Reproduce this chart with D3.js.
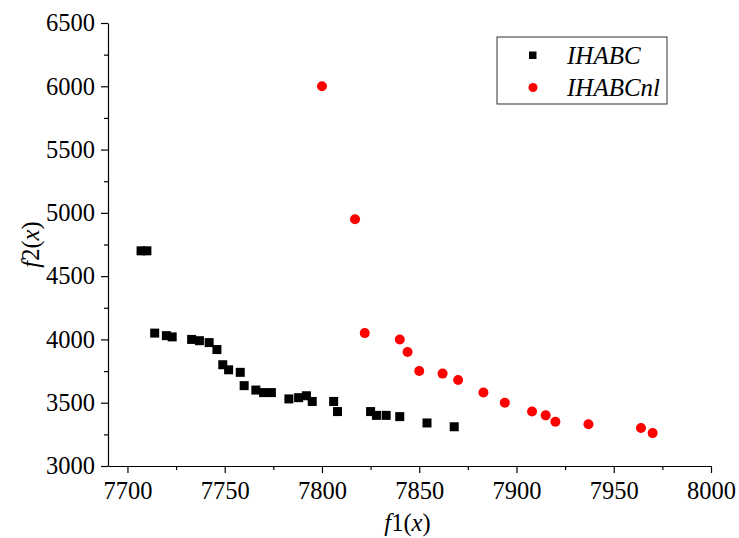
<!DOCTYPE html>
<html>
<head>
<meta charset="utf-8">
<script src="https://cdn.jsdelivr.net/npm/d3@7"></script>
<style>
  body { margin: 0; background: #fff; }
  svg text { font-family: "Liberation Serif", "Times New Roman", serif; }
</style>
</head>
<body>
<div id="chart"></div>
<script>
// Data
const ihabcX = [7707, 7710, 7714, 7720, 7723, 7733, 7737, 7742, 7746, 7749, 7752, 7758, 7760, 7766, 7770, 7774, 7783, 7788, 7792, 7795, 7806, 7808, 7825, 7828, 7833, 7840, 7854, 7868];
const ihabcY = [4700, 4700, 4050, 4030, 4020, 4000, 3990, 3975, 3920, 3800, 3760, 3740, 3635, 3600, 3580, 3580, 3530, 3540, 3555, 3510, 3510, 3430, 3430, 3400, 3400, 3390, 3340, 3310];

const nlX = [7800, 7817, 7822, 7840, 7844, 7850, 7862, 7870, 7883, 7894, 7908, 7915, 7920, 7937, 7964, 7970];
const nlY = [6000, 4950, 4050, 4000, 3900, 3750, 3730, 3680, 3580, 3500, 3430, 3400, 3350, 3330, 3300, 3260];

const xTicks = [7700, 7750, 7800, 7850, 7900, 7950, 8000];
const yTicks = [3000, 3500, 4000, 4500, 5000, 5500, 6000, 6500];
const legendNames = ["IHABC", "IHABCnl"];

const serif = '"Liberation Serif", "Times New Roman", serif';
const width = 739, height = 538;
const margin = {top: 23, right: 28, bottom: 72, left: 108};

const svg = d3.select("#chart").append("svg")
    .attr("width", width)
    .attr("height", height)
    .attr("font-family", serif);

const x = d3.scaleLinear().domain([7690, 8000]).range([margin.left, width - margin.right]);
const y = d3.scaleLinear().domain([3000, 6500]).range([height - margin.bottom, margin.top]);

// minor ticks
const xMinor = d3.range(7725, 8000, 50);
const yMinor = d3.range(3250, 6500, 500);

svg.append("g")
    .attr("transform", `translate(0, ${y(3000)})`)
    .call(d3.axisBottom(x).tickValues(xTicks).tickFormat(d3.format("d")).tickSize(7).tickPadding(9).tickSizeOuter(0));
svg.append("g")
    .attr("transform", `translate(0, ${y(3000)})`)
    .call(d3.axisBottom(x).tickValues(xMinor).tickFormat("").tickSize(4).tickSizeOuter(0))
    .select(".domain").remove();

svg.append("g")
    .attr("transform", `translate(${x(7690)}, 0)`)
    .call(d3.axisLeft(y).tickValues(yTicks).tickFormat(d3.format("d")).tickSize(7).tickPadding(6).tickSizeOuter(0));
svg.append("g")
    .attr("transform", `translate(${x(7690)}, 0)`)
    .call(d3.axisLeft(y).tickValues(yMinor).tickFormat("").tickSize(4).tickSizeOuter(0))
    .select(".domain").remove();

// d3 axis puts sans-serif on its group, override it
svg.selectAll("g").attr("font-family", serif);
svg.selectAll(".tick text")
    .attr("font-family", serif)
    .style("font-size", "24.5px")
    .attr("fill", "#000");
svg.selectAll(".domain, .tick line").attr("stroke", "#000").attr("stroke-width", 1.2);

// axis titles
const xt = svg.append("text")
    .attr("x", (x(7690) + x(8000)) / 2 - 2)
    .attr("y", 531)
    .attr("text-anchor", "middle")
    .style("font-size", "24.5px");
xt.append("tspan").attr("font-style", "italic").text("f");
xt.append("tspan").text("1(");
xt.append("tspan").attr("font-style", "italic").text("x");
xt.append("tspan").text(")");

const yt = svg.append("text")
    .attr("transform", `translate(39, ${(y(3000) + y(6500)) / 2}) rotate(-90)`)
    .attr("text-anchor", "middle")
    .style("font-size", "24.5px");
yt.append("tspan").attr("font-style", "italic").text("f");
yt.append("tspan").text("2(");
yt.append("tspan").attr("font-style", "italic").text("x");
yt.append("tspan").text(")");

// points
const sq = 9;
svg.append("g").selectAll("rect")
    .data(ihabcX.map((d, i) => [d, ihabcY[i]]))
    .enter().append("rect")
    .attr("x", d => x(d[0]) - sq / 2)
    .attr("y", d => y(d[1]) - sq / 2)
    .attr("width", sq)
    .attr("height", sq)
    .attr("fill", "#000");

svg.append("g").selectAll("circle")
    .data(nlX.map((d, i) => [d, nlY[i]]))
    .enter().append("circle")
    .attr("cx", d => x(d[0]))
    .attr("cy", d => y(d[1]))
    .attr("r", 5)
    .attr("fill", "#ff0000");

// legend
const lg = svg.append("g");
lg.append("rect")
    .attr("x", 497).attr("y", 37)
    .attr("width", 170).attr("height", 67)
    .attr("fill", "none").attr("stroke", "#333").attr("stroke-width", 1);
lg.append("rect")
    .attr("x", 529).attr("y", 51.5).attr("width", 7.5).attr("height", 7.5)
    .attr("fill", "#000");
lg.append("circle")
    .attr("cx", 533).attr("cy", 87.5).attr("r", 4.5)
    .attr("fill", "#ff0000");
lg.selectAll("text.lab")
    .data(legendNames)
    .enter().append("text")
    .attr("class", "lab")
    .attr("x", 567)
    .attr("y", (d, i) => 64 + i * 32)
    .attr("font-style", "italic")
    .style("font-size", "25px")
    .text(d => d);
</script>
</body>
</html>
